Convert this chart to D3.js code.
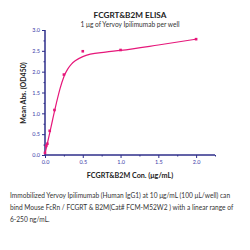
<!DOCTYPE html>
<html>
  <head>
    <meta charset="UTF-8" />
    <style>
      body { margin: 0; background: white; }
      svg { display: block; font-family: Lato, "Open Sans", sans-serif; }
    </style>
  </head>
  <body>
    <svg></svg>
    <script src="https://d3js.org/d3.v7.min.js"></script>
    <script>
      let width = 250,
        height = 250;

      // measured points
      let conc = [0, 0.0156, 0.0313, 0.0625, 0.125, 0.25, 0.5, 1, 2];
      let absorb = [0.05, 0.22, 0.27, 0.58, 1.08, 1.93, 2.49, 2.52, 2.78];

      // fitted curve
      let fitX = [0, 0.05, 0.1, 0.15, 0.2, 0.25, 0.3, 0.35, 0.4, 0.5, 0.6, 0.8, 1.0, 1.5, 2.0];
      let fitY = [0.03, 0.43, 0.84, 1.24, 1.6, 1.88, 2.06, 2.18, 2.26, 2.36, 2.42, 2.47, 2.51, 2.64, 2.78];

      let yTicks = [0, 0.5, 1, 1.5, 2, 2.5, 3];
      let xTicks = [0, 0.5, 1, 1.5, 2];

      let caption = [
        "Immobilized Yervoy Ipilimumab (Human IgG1) at 10 \u03bcg/mL (100 \u03bcL/well) can",
        "bind Mouse FcRn / FCGRT & B2M(Cat# FCM-M52W2 ) with a linear range of",
        "6-250 ng/mL."
      ];

      let axisColor = "#2e2e8a";
      let labelColor = "#3a3aa8";
      let curveColor = "#e6177a";

      let svg = d3.select("svg").attr("width", width).attr("height", height);

      let x = d3.scaleLinear().domain([0, 2.25]).range([45, 215]);
      let y = d3.scaleLinear().domain([0, 3]).range([155, 30]);

      // title
      svg.append("text")
        .attr("x", 130).attr("y", 18)
        .attr("text-anchor", "middle")
        .attr("font-size", 8.2).attr("font-weight", "bold")
        .attr("fill", "#222")
        .text("FCGRT&B2M ELISA");
      svg.append("text")
        .attr("x", 130).attr("y", 27)
        .attr("text-anchor", "middle")
        .attr("font-size", 6.6)
        .attr("fill", "#333")
        .text("1 \u03bcg of Yervoy Ipilimumab per well");

      // y axis
      let yAxis = svg.append("g").attr("transform", "translate(45,0)");
      yAxis.call(d3.axisLeft(y).tickValues(yTicks).tickFormat(d3.format(".1f")).tickSize(3).tickPadding(2));
      yAxis.append("g").call(d3.axisLeft(y).tickValues(d3.range(0.25, 3, 0.5)).tickFormat("").tickSize(1.5));
      // x axis
      let xAxis = svg.append("g").attr("transform", "translate(0,155)");
      xAxis.call(d3.axisBottom(x).tickValues(xTicks).tickFormat(d3.format(".1f")).tickSize(3).tickPadding(2));
      xAxis.append("g").call(d3.axisBottom(x).tickValues(d3.range(0.25, 2.3, 0.5)).tickFormat("").tickSize(1.5));

      svg.selectAll(".domain").attr("stroke", axisColor).attr("stroke-width", 1);
      svg.selectAll(".tick line").attr("stroke", axisColor);
      svg.selectAll(".tick text").attr("fill", labelColor).attr("font-size", 5.5).attr("font-family", "Lato, sans-serif");
      // drop path end caps (outer ticks)
      yAxis.selectAll(".domain").attr("d", "M0," + y(0) + "V" + y(3));
      xAxis.selectAll(".domain").attr("d", "M" + x(0) + ",0H" + x(2.25));

      // axis titles
      svg.append("text")
        .attr("transform", "translate(26,93) rotate(-90)")
        .attr("text-anchor", "middle")
        .attr("font-size", 7).attr("font-weight", "bold")
        .attr("fill", "#222")
        .text("Mean Abs. (OD450)");
      svg.append("text")
        .attr("x", 130).attr("y", 178)
        .attr("text-anchor", "middle")
        .attr("font-size", 7.2).attr("font-weight", "bold")
        .attr("fill", "#222")
        .text("FCGRT&B2M Con. (\u03bcg/mL)");

      // fit curve
      let fit = fitX.map((d, i) => [d, fitY[i]]);
      svg.append("path")
        .datum(fit)
        .attr("fill", "none")
        .attr("stroke", curveColor)
        .attr("stroke-width", 1.2)
        .attr("d", d3.line().x(d => x(d[0])).y(d => y(d[1])).curve(d3.curveMonotoneX));

      // points
      svg.append("g")
        .selectAll("rect")
        .data(conc.map((d, i) => [d, absorb[i]]))
        .join("rect")
        .attr("x", d => x(d[0]) - 1.3)
        .attr("y", d => y(d[1]) - 1.3)
        .attr("width", 2.6).attr("height", 2.6)
        .attr("fill", curveColor);

      // caption
      svg.append("g")
        .selectAll("text")
        .data(caption)
        .join("text")
        .attr("x", 10)
        .attr("y", (d, i) => 198 + i * 12)
        .attr("font-size", 6.6)
        .attr("fill", "#333")
        .text(d => d);
    </script>
  </body>
</html>
